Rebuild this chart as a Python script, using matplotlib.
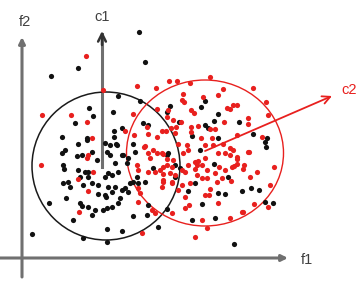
import matplotlib
matplotlib.use("Agg")
import matplotlib.pyplot as plt
from matplotlib.patches import Circle, Ellipse

# point positions (pixel coords, y downward)
black_x = [139, 145, 78, 51, 118, 140, 89, 93, 113, 75, 62, 87, 114, 114, 122, 143, 148, 170, 167,
           205, 201, 218, 214, 179, 205, 208, 192, 218, 239, 253, 267,
           65, 62, 78, 77, 87, 92, 63, 64, 78, 85, 88, 88, 80, 68, 63, 70, 83, 92, 66, 49, 80, 82,
           88, 92, 73, 32, 83,
           105, 110, 116, 107, 110, 122, 115, 108, 112, 118, 105, 127, 128, 135, 133, 130, 133,
           138, 145, 137, 98, 108, 122, 128, 125, 105, 120, 118, 112, 107, 103, 95, 133, 148, 147,
           107, 122, 158, 107, 153, 97, 82, 117, 123, 98, 106, 112, 115, 167,
           200, 168, 175, 180, 175, 214, 228, 195, 188, 218, 225, 202, 167, 192, 215, 234,
           265, 266, 242, 251, 259, 265, 273]
black_y = [32, 62, 68, 76, 96, 101, 108, 116, 112, 123, 137, 138, 131, 137, 128, 123, 125, 106, 112,
           101, 107, 114, 121, 122, 125, 128, 136, 138, 122, 134, 138,
           150, 153, 144, 156, 140, 152, 165, 169, 170, 172, 172, 177, 177, 182, 183, 187, 185, 183,
           198, 203, 203, 206, 207, 215, 220, 234, 238,
           143, 145, 144, 152, 155, 155, 163, 173, 175, 172, 177, 163, 158, 152, 144, 183, 182,
           183, 182, 177, 185, 187, 190, 192, 188, 195, 198, 203, 207, 208, 210, 210, 216, 205, 215,
           229, 231, 227, 242, 168, 160, 155, 145, 155, 194, 197, 192, 187, 155,
           150, 153, 165, 168, 177, 164, 177, 183, 191, 193, 194, 204, 209, 220, 218, 244,
           142, 147, 191, 188, 190, 202, 203]

red_x = [86, 42, 71, 87, 92, 103, 137, 156, 157, 133, 125, 134, 148, 157, 162, 147, 166, 168, 167,
         173, 171, 176, 169, 177, 190, 210, 183, 182, 223, 218, 203, 191, 194, 227, 233, 230, 224,
         181, 191, 198, 210, 215, 175, 191, 212, 201, 253, 266, 268, 237, 248, 248, 237, 262, 184,
         88, 87, 41, 93, 78, 88, 79, 137, 138, 138, 140, 138, 152, 155, 142, 145, 148, 150, 153,
         157, 162, 148, 155, 160, 163, 162,
         178, 187, 183, 188, 205, 213, 223, 230, 218, 225, 230, 167, 170, 172, 185, 188, 195, 198,
         197, 202, 205, 215, 207, 197, 225, 232, 222, 217, 207, 202, 190, 178, 210, 205, 209,
         185, 218, 185, 172, 202, 230, 207, 195, 243, 254, 270, 274, 249, 268, 257, 250, 231,
         189, 234, 244, 237, 233, 195, 219, 182, 182, 248, 237, 237, 243, 242,
         144, 163, 167, 173, 172, 163, 163, 163, 172, 175]
red_y = [56, 115, 115, 122, 138, 90, 86, 88, 109, 114, 131, 135, 134, 137, 131, 127, 131, 110, 117,
         120, 128, 127, 81, 81, 83, 77, 94, 100, 89, 95, 97, 110, 113, 108, 105, 109, 122,
         122, 127, 126, 129, 129, 133, 132, 138, 138, 88, 102, 115, 105, 118, 124, 135, 137, 102,
         155, 158, 165, 172, 179, 191, 212, 165, 170, 188, 193, 202, 210, 213, 233, 146, 153, 158,
         150, 153, 153, 172, 172, 170, 182, 187,
         144, 145, 153, 150, 145, 145, 144, 148, 153, 153, 155, 165, 173, 183, 172, 165, 162, 161,
         165, 165, 158, 173, 170, 175, 170, 167, 178, 182, 178, 178, 183, 190, 189, 195, 195,
         197, 203, 208, 213, 220, 218, 228, 237, 212, 204, 185, 167, 152, 207, 172, 177, 181,
         205, 166, 165, 159, 150, 169, 167, 170, 185, 152, 157, 164, 169, 212,
         147, 154, 159, 160, 167, 167, 174, 180, 182, 175]

fig = plt.figure(figsize=(3.64, 2.83), dpi=100)
ax = fig.add_axes([0, 0, 1, 1])
ax.set_xlim(0, 364)
ax.set_ylim(283, 0)
ax.axis("off")

axis_gray = "#707070"
red = "#e8201e"

# f1 / f2 axes
ax.annotate("", xy=(22, 37), xytext=(22, 277),
            arrowprops=dict(arrowstyle="-|>", color=axis_gray, lw=2.2, mutation_scale=9, shrinkA=0, shrinkB=0))
ax.annotate("", xy=(288, 258), xytext=(0, 258),
            arrowprops=dict(arrowstyle="-|>", color=axis_gray, lw=2.2, mutation_scale=9, shrinkA=0, shrinkB=0))
# c1 axis
ax.plot([102, 102], [167, 34], color=axis_gray, lw=2.2, zorder=1)
ax.annotate("", xy=(102, 31), xytext=(102, 45),
            arrowprops=dict(arrowstyle="->", color="#333333", lw=1.8, mutation_scale=14, shrinkA=0, shrinkB=0))

# cluster circles
ax.add_patch(Circle((106, 166), 74, fill=False, edgecolor="#1a1a1a", lw=1.1))
ax.add_patch(Ellipse((205, 153), 157, 146, fill=False, edgecolor=red, lw=1))

# c2 axis
ax.annotate("", xy=(332, 96), xytext=(205, 151),
            arrowprops=dict(arrowstyle="->", color=red, lw=1.3, mutation_scale=14, shrinkA=0, shrinkB=0))

ax.scatter(black_x, black_y, s=14, color="#111111", linewidths=0, zorder=3)
ax.scatter(red_x, red_y, s=14, color=red, linewidths=0, zorder=3)

font = dict(fontsize=10.5, ha="center", va="center", family="Liberation Sans")
ax.text(25, 22, "f2", color="#404040", **font)
ax.text(102, 17, "c1", color="#404040", **font)
ax.text(307, 260, "f1", color="#404040", **font)
ax.text(349, 90, "c2", color=red, **font)

fig.savefig("out.png", dpi=100)
